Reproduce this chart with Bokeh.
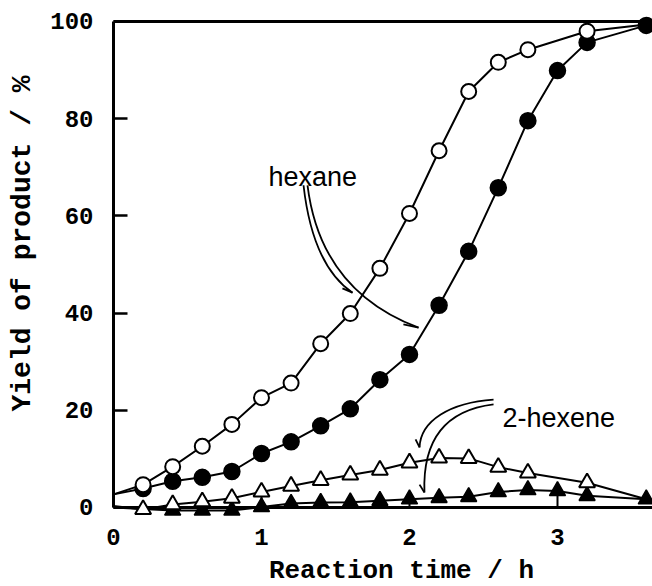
from bokeh.plotting import figure
from bokeh.models import Range1d, FixedTicker, Label, LinearAxis
from bokeh.embed import file_html
from bokeh.resources import INLINE

# ---- data ----
t_hexane_open = [0.2, 0.4, 0.6, 0.8, 1.0, 1.2, 1.4, 1.6, 1.8, 2.0, 2.2, 2.4, 2.6, 2.8, 3.2]
hexane_open = [4.7, 8.4, 12.6, 17.1, 22.6, 25.6, 33.7, 39.9, 49.2, 60.5, 73.4, 85.6, 91.6, 94.2, 98.0]

t_hexane_filled = [0.2, 0.4, 0.6, 0.8, 1.0, 1.2, 1.4, 1.6, 1.8, 2.0, 2.2, 2.4, 2.6, 2.8, 3.0, 3.2, 3.6]
hexane_filled = [3.9, 5.4, 6.2, 7.4, 11.1, 13.5, 16.8, 20.3, 26.3, 31.5, 41.6, 52.7, 65.8, 79.6, 89.9, 95.7, 99.2]

t_hexene_open = [0.2, 0.4, 0.6, 0.8, 1.0, 1.2, 1.4, 1.6, 1.8, 2.0, 2.2, 2.4, 2.6, 2.8, 3.2]
hexene_open = [-0.4, 0.6, 1.2, 1.9, 3.2, 4.4, 5.6, 6.7, 7.7, 9.2, 10.2, 10.1, 8.3, 7.1, 5.1]

t_hexene_filled = [0.4, 0.6, 0.8, 1.0, 1.2, 1.4, 1.6, 1.8, 2.0, 2.2, 2.4, 2.6, 2.8, 3.0, 3.2, 3.6]
hexene_filled = [-0.6, -0.6, -0.6, 0.1, 0.8, 1.0, 1.1, 1.4, 1.7, 2.0, 2.2, 3.2, 3.6, 3.4, 2.4, 1.7]

# ends of the drawn curves
curve_t_start = 0.0
hexane_open_curve_start = 2.7
hexane_filled_curve_start = 2.7
hexane_curve_end_t = 3.6
hexane_open_curve_end = 99.4
hexene_open_curve_start = 0.3
hexene_filled_curve_start = 0.0
hexene_curve_end_t = 3.6
hexene_open_curve_end = 1.7

x_ticks = [0, 1, 2, 3]
y_ticks = [0, 20, 40, 60, 80, 100]
x_title = "Reaction time / h"
y_title = "Yield of product / %"

X_MIN, X_MAX = -0.7635, 3.642
Y_MIN, Y_MAX = -16.26, 104.32

FONT_AX = "Liberation Mono"
FONT_ANN = "Liberation Sans"

p = figure(width=652, height=586, output_backend="svg", toolbar_location=None,
           x_range=Range1d(X_MIN, X_MAX), y_range=Range1d(Y_MIN, Y_MAX),
           min_border=0, min_border_left=0, min_border_right=0,
           min_border_top=0, min_border_bottom=0)
p.outline_line_color = None
p.grid.visible = False
p.background_fill_color = "white"
p.border_fill_color = "white"

# y axis at x = 0 (left spine)
yax = p.yaxis[0]
yax.fixed_location = 0
yax.ticker = FixedTicker(ticks=y_ticks)
yax.bounds = (0, 100)
yax.axis_line_width = 3
yax.axis_line_color = "black"
yax.major_tick_in = 14
yax.major_tick_out = 0
yax.major_tick_line_width = 2.5
yax.minor_tick_line_color = None
yax.major_label_standoff = 20
yax.major_label_text_font = FONT_AX
yax.major_label_text_font_size = "24px"
yax.major_label_text_font_style = "bold"
yax.major_label_text_color = "black"

# x axis at y = 0 (bottom spine), under the markers
xax = p.xaxis[0]
xax.fixed_location = 0
xax.level = "underlay"
xax.ticker = FixedTicker(ticks=x_ticks)
xax.bounds = (0, X_MAX)
xax.axis_line_width = 3
xax.axis_line_color = "black"
xax.major_tick_line_color = "black"
xax.major_tick_line_width = 2
xax.minor_tick_line_color = None
xax.major_tick_in = 13
xax.major_tick_out = 0
xax.major_label_standoff = 22
xax.major_label_text_font = FONT_AX
xax.major_label_text_font_size = "24px"
xax.major_label_text_font_style = "bold"
xax.major_label_text_color = "black"

# top spine at y = 100
top_axis = LinearAxis(fixed_location=100, ticker=FixedTicker(ticks=[]), bounds=(0, X_MAX),
                      axis_line_width=3, axis_line_color="black", level="underlay",
                      major_tick_line_color=None, minor_tick_line_color=None)
p.add_layout(top_axis, "above")

# x title carried by a bare axis
xax2 = LinearAxis(fixed_location=0, ticker=FixedTicker(ticks=[]), bounds=(0.25, X_MAX),
                  axis_line_color=None, major_tick_line_color=None, minor_tick_line_color=None,
                  axis_label=x_title, axis_label_standoff=48,
                  axis_label_text_font=FONT_AX, axis_label_text_font_size="26px",
                  axis_label_text_font_style="bold", axis_label_text_color="black")
p.add_layout(xax2, "below")

# y title carried by a bare axis
yax2 = LinearAxis(fixed_location=0, ticker=FixedTicker(ticks=[]), bounds=(8.6, 100),
                  axis_line_color=None, major_tick_line_color=None, minor_tick_line_color=None,
                  axis_label=y_title, axis_label_standoff=76,
                  axis_label_text_font=FONT_AX, axis_label_text_font_size="28px",
                  axis_label_text_font_style="bold", axis_label_text_color="black")
p.add_layout(yax2, "left")

# curves
LW = 2
p.line([curve_t_start] + t_hexane_open + [hexane_curve_end_t],
       [hexane_open_curve_start] + hexane_open + [hexane_open_curve_end], line_width=LW, line_color="black")
p.line([curve_t_start] + t_hexane_filled,
       [hexane_filled_curve_start] + hexane_filled, line_width=LW, line_color="black")
p.line([curve_t_start] + t_hexene_open + [hexene_curve_end_t],
       [hexene_open_curve_start] + hexene_open + [hexene_open_curve_end], line_width=LW, line_color="black")
p.line([curve_t_start] + t_hexene_filled,
       [hexene_filled_curve_start] + hexene_filled, line_width=LW, line_color="black")

# markers
p.scatter(t_hexene_filled, hexene_filled, marker="triangle", size=16,
          fill_color="black", line_color="black", line_width=1.5)
p.scatter(t_hexene_open, hexene_open, marker="triangle", size=16,
          fill_color="white", line_color="black", line_width=2)
p.scatter(t_hexane_filled, hexane_filled, marker="circle", size=16,
          fill_color="black", line_color="black", line_width=1.5)
p.scatter(t_hexane_open, hexane_open, marker="circle", size=15,
          fill_color="white", line_color="black", line_width=2)

# annotation arrows (hollow double-line arrows)
AW = 1.8
p.quadratic(x0=[1.284, 1.311], y0=[66.3, 66.3], x1=[1.615, 2.061], y1=[44.2, 37.0],
            cx=[1.345, 1.399], cy=[49.8, 44.6], line_width=AW, line_color="black")
p.segment(x0=[1.547, 1.959], y0=[45.1, 37.7], x1=[1.615, 2.061], y1=[44.2, 37.0],
          line_width=AW, line_color="black")
p.bezier(x0=[2.568, 2.568], y0=[22.2, 21.2], x1=[2.068, 2.101], y1=[12.35, 3.1],
         cx0=[2.277, 2.243], cy0=[21.6, 20.0], cx1=[2.074, 2.088], cy1=[17.9, 13.8],
         line_width=AW, line_color="black")
p.segment(x0=[2.041, 2.068], y0=[14.0, 4.7], x1=[2.068, 2.101], y1=[12.35, 3.1],
          line_width=AW, line_color="black")

p.add_layout(Label(x=1.047, y=67.9, text="hexane", text_font=FONT_ANN,
                   text_font_size="27px", text_align="left", text_baseline="alphabetic",
                   text_color="black"))
p.add_layout(Label(x=2.628, y=18.5, text="2-hexene", text_font=FONT_ANN,
                   text_font_size="27px", text_align="left", text_baseline="alphabetic",
                   text_color="black"))

open("out.html", "w").write(file_html(p, INLINE))
